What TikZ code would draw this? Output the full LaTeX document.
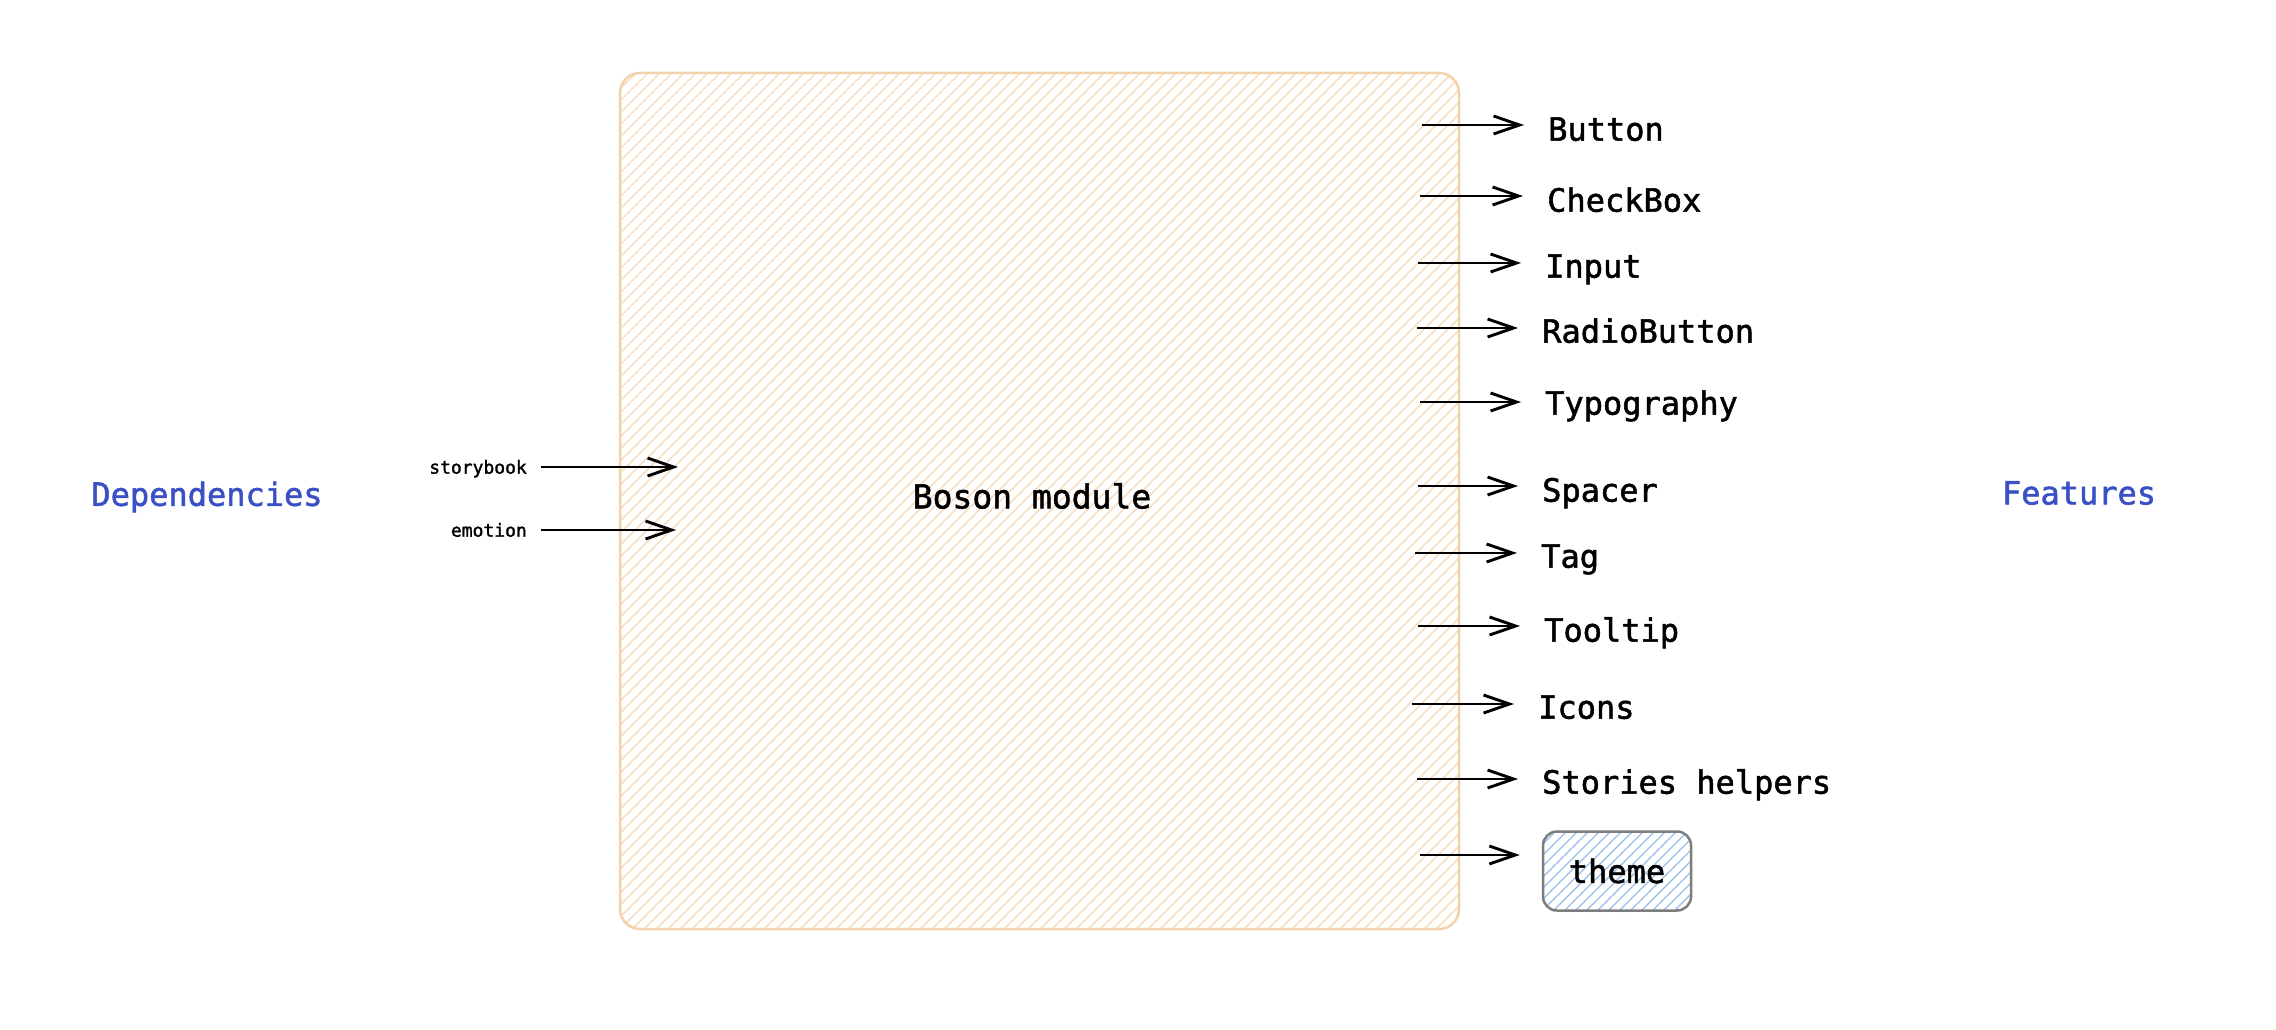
\documentclass[tikz,border=0pt]{standalone}
\usepackage{fontspec}
\setmonofont{DejaVu Sans Mono}
\newfontfamily\sketchmono[FakeBold=1.6]{DejaVu Sans Mono}
\usetikzlibrary{arrows.meta}
\definecolor{orstroke}{RGB}{242,210,170}
\definecolor{orhatch}{RGB}{247,218,186}
\definecolor{bluehatch}{RGB}{150,190,235}
\definecolor{grayedge}{RGB}{125,125,125}
\definecolor{labelblue}{RGB}{58,80,196}
\tikzset{
  arr/.style={-{Straight Barb[length=26pt,width=18pt,line width=2.9pt]}, line width=2.9pt, black},
  feat/.style={font=\sketchmono\fontsize{32}{38}\selectfont, anchor=west, inner sep=0pt, text height=0.73em, text depth=0pt},
  dep/.style={font=\sketchmono\fontsize{18}{22}\selectfont, anchor=east, inner sep=0pt, text height=0.73em, text depth=0pt},
  title/.style={font=\sketchmono\fontsize{32}{38}\selectfont, text=labelblue, inner sep=0pt},
}
\begin{document}
\begin{tikzpicture}[x=1pt,y=-1pt]
\useasboundingbox[fill=white] (0,0) rectangle (2276,1030);
% main box hatch
\begin{scope}
  \clip[rounded corners=20pt] (620,73) rectangle (1459,929);
  \foreach \x in {-250,-238,...,1470} {
    \draw[orhatch, line width=1.4pt] (\x,935) -- ++(870,-870);
  }
\end{scope}
\draw[orstroke, line width=2.5pt, rounded corners=20pt] (620,73) rectangle (1459,929);
\node[font=\sketchmono\fontsize{33}{38}\selectfont, inner sep=0pt] (boson) at (1032,496) {Boson module};

% theme box hatch
\begin{scope}
  \clip[rounded corners=14pt] (1543,833) rectangle (1691,912);
  \foreach \x in {1450,1461,...,1700} {
    \draw[bluehatch, line width=1.2pt] (\x,915) -- ++(85,-85);
  }
\end{scope}
\node[draw=grayedge, line width=2.5pt, rounded corners=14pt, minimum width=148pt, minimum height=79pt,
      font=\sketchmono\fontsize{32}{38}\selectfont, inner sep=0pt] (theme) at (1617,871) {theme};

% feature labels
\node[feat] (f1) at (1548,137) {Button};
\node[feat] (f2) at (1547,208) {CheckBox};
\node[feat] (f3) at (1545,274) {Input};
\node[feat] (f4) at (1542,339) {RadioButton};
\node[feat] (f5) at (1545,411) {Typography};
\node[feat] (f6) at (1542,498) {Spacer};
\node[feat] (f7) at (1541,564) {Tag};
\node[feat] (f8) at (1544,638) {Tooltip};
\node[feat] (f9) at (1538,715) {Icons};
\node[feat] (f10) at (1542,790) {Stories helpers};

% arrow starts
\coordinate (s1) at (1422,125);
\coordinate (s2) at (1420,196);
\coordinate (s3) at (1418,263);
\coordinate (s4) at (1417,328);
\coordinate (s5) at (1420,402);
\coordinate (s6) at (1418,486);
\coordinate (s7) at (1415,553);
\coordinate (s8) at (1418,626);
\coordinate (s9) at (1412,704);
\coordinate (s10) at (1417,779);
\coordinate (s11) at (1420,855);

\foreach \i in {1,...,10} {
  \draw[arr, shorten >=24pt] (s\i) -- (s\i -| f\i.west);
}
\draw[arr, shorten >=22pt] (s11) -- (s11 -| theme.west);

% dependencies
\node[dep] (sb) at (527,470) {storybook};
\node[dep] (em) at (527,533) {emotion};
\coordinate (sbe) at (678,467);
\coordinate (eme) at (676,530);
\draw[arr, shorten <=14pt] (sb.east |- sbe) -- (sbe);
\draw[arr, shorten <=14pt] (em.east |- eme) -- (eme);

\node[title] (deps) at (207,497) {Dependencies};
\node[title] (feats) at (2079,493) {Features};
\end{tikzpicture}
\end{document}
